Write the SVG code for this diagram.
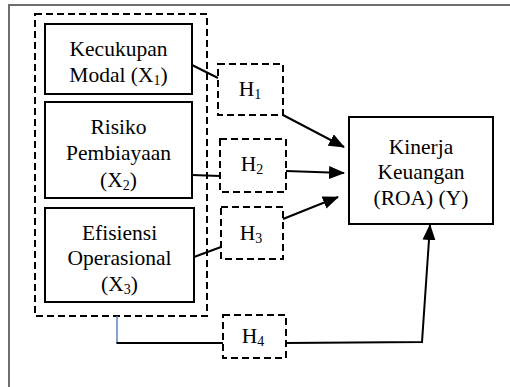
<svg xmlns="http://www.w3.org/2000/svg" width="510" height="387" viewBox="0 0 510 387">
  <style>
    .frame { fill: none; stroke: #6e6e6e; stroke-width: 2; }
    .box { fill: #fff; stroke: #000; stroke-width: 2; }
    .dash { fill: none; stroke: #000; stroke-width: 2; stroke-dasharray: 7 4; }
    .lbl { font-family: "Liberation Serif", "Times New Roman", serif; font-size: 21.5px; fill: #000; text-anchor: middle; }
    .sub { font-size: 14px; }
    .link { fill: none; stroke: #000; stroke-width: 2; }
    .arrow { fill: none; stroke: #000; stroke-width: 2; marker-end: url(#head); }
  </style>
  <defs>
    <marker id="head" viewBox="0 0 16 13" refX="15" refY="6.5" markerWidth="16" markerHeight="13" markerUnits="userSpaceOnUse" orient="auto">
      <path d="M0,0 L16,6.5 L0,13 z" fill="#000"/>
    </marker>
  </defs>

  <rect width="510" height="387" fill="#fff"/>
  <!-- page frame, running off the right and bottom edges -->
  <rect class="frame" x="9" y="5" width="620" height="500"/>

  <!-- dashed grouping of the independent variables -->
  <rect id="group-x" class="dash" x="35" y="14" width="172" height="302"/>

  <g id="x1">
    <rect class="box" x="45" y="24" width="147" height="70"/>
    <text class="lbl" x="118.5" y="56">Kecukupan</text>
    <text class="lbl" x="118.5" y="82">Modal (X<tspan class="sub" dy="3">1</tspan><tspan dy="-3">)</tspan></text>
  </g>

  <g id="x2">
    <rect class="box" x="45" y="102" width="147" height="96"/>
    <text class="lbl" x="118.5" y="134">Risiko</text>
    <text class="lbl" x="118.5" y="160">Pembiayaan</text>
    <text class="lbl" x="118.5" y="187">(X<tspan class="sub" dy="3">2</tspan><tspan dy="-3">)</tspan></text>
  </g>

  <g id="x3">
    <rect class="box" x="45" y="208" width="149" height="94"/>
    <text class="lbl" x="119.5" y="240">Efisiensi</text>
    <text class="lbl" x="119.5" y="265">Operasional</text>
    <text class="lbl" x="119.5" y="291">(X<tspan class="sub" dy="3">3</tspan><tspan dy="-3">)</tspan></text>
  </g>

  <g id="h1">
    <rect class="dash" x="218" y="64" width="65" height="51"/>
    <text class="lbl" x="250" y="96">H<tspan class="sub" dy="3">1</tspan></text>
  </g>
  <g id="h2">
    <rect class="dash" x="220" y="139" width="66" height="53"/>
    <text class="lbl" x="252" y="171">H<tspan class="sub" dy="3">2</tspan></text>
  </g>
  <g id="h3">
    <rect class="dash" x="221" y="207" width="62" height="52"/>
    <text class="lbl" x="251" y="240">H<tspan class="sub" dy="3">3</tspan></text>
  </g>
  <g id="h4">
    <rect class="dash" x="223" y="315" width="63" height="43"/>
    <text class="lbl" x="253" y="343">H<tspan class="sub" dy="3">4</tspan></text>
  </g>

  <g id="y">
    <rect class="box" x="349" y="117" width="144" height="107"/>
    <text class="lbl" x="421" y="154">Kinerja</text>
    <text class="lbl" x="421" y="179">Keuangan</text>
    <text class="lbl" x="421" y="205">(ROA) (Y)</text>
  </g>

  <g id="connectors">
    <line class="link" x1="192" y1="65" x2="218" y2="78"/>
    <line class="link" x1="192" y1="175" x2="220" y2="176"/>
    <line class="link" x1="194" y1="257" x2="221" y2="247"/>
    <line class="arrow" x1="283" y1="115" x2="344" y2="147"/>
    <line class="arrow" x1="286" y1="171" x2="344" y2="173"/>
    <line class="arrow" x1="283" y1="219" x2="338" y2="197"/>
    <line x1="117" y1="316" x2="117" y2="343" stroke="#5b7fc0" stroke-width="1.5"/>
    <line class="link" x1="116.5" y1="343" x2="223" y2="343"/>
    <polyline class="arrow" points="286,343 422,342 430,225"/>
  </g>
</svg>
